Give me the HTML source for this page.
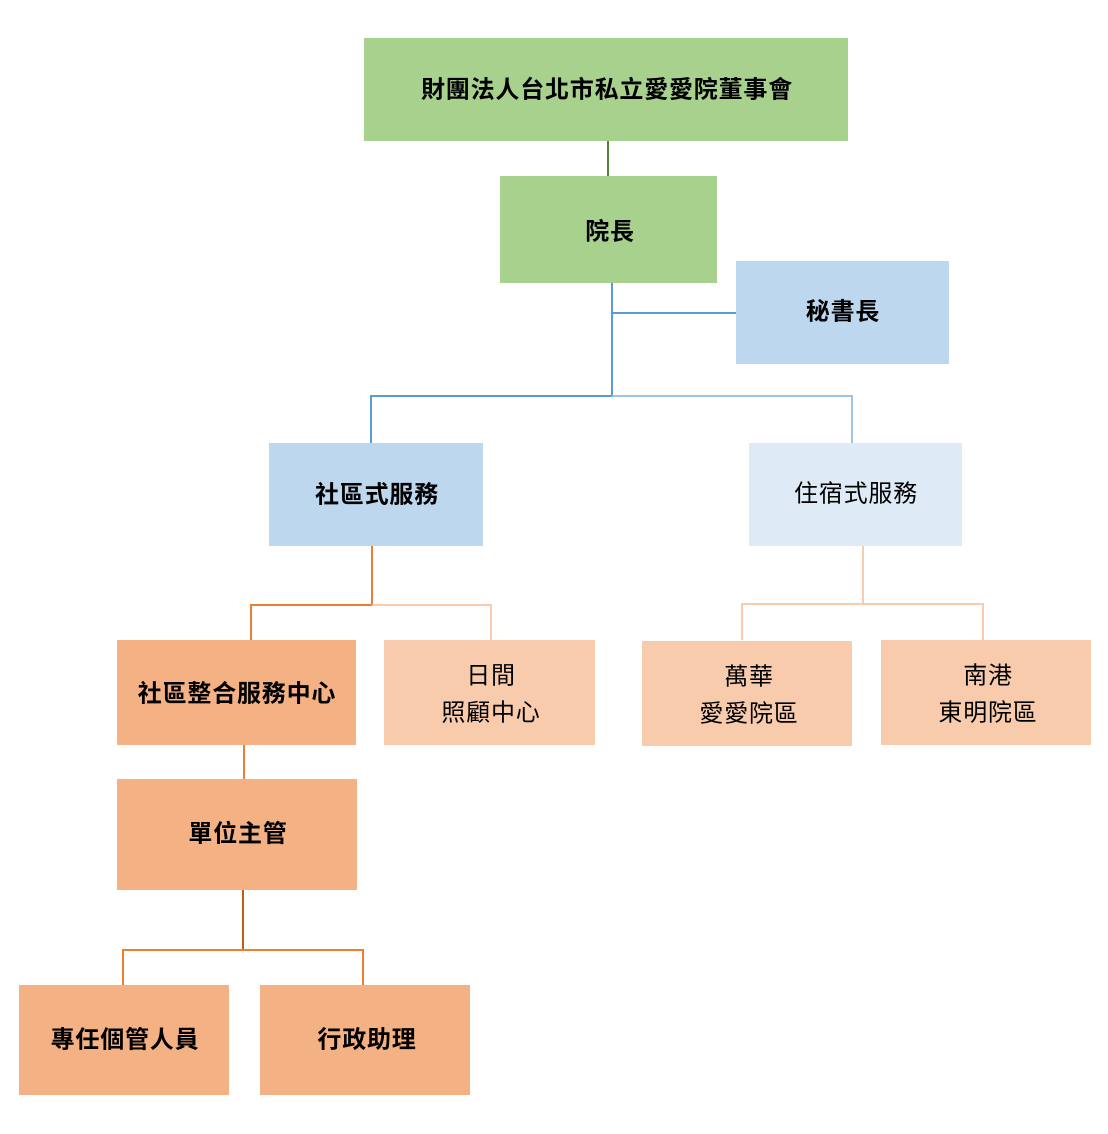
<!DOCTYPE html>
<html><head><meta charset="utf-8">
<style>
html,body{margin:0;padding:0;background:#fff;}
svg text{font-family:"Liberation Sans","Noto Sans CJK TC",sans-serif;font-size:24px;letter-spacing:0.8px;fill:#000;text-anchor:middle;dominant-baseline:central;}
.b{font-weight:bold;}
</style></head><body>
<svg width="1108" height="1129" viewBox="0 0 1108 1129" xmlns="http://www.w3.org/2000/svg">
<g fill="none" stroke-width="2">
<line x1="608" y1="141" x2="608" y2="176" stroke="#548235"/>
<line x1="612" y1="283" x2="612" y2="396" stroke="#5b9bd5"/>
<line x1="612" y1="313" x2="736" y2="313" stroke="#5b9bd5"/>
<polyline points="371,443 371,396 612,396" stroke="#5b9bd5"/>
<polyline points="612,396 852,396 852,443" stroke="#9dc3e6"/>
<line x1="372" y1="546" x2="372" y2="605" stroke="#ed7d31"/>
<polyline points="251,640 251,605 372,605" stroke="#ed7d31"/>
<polyline points="372,605 491,605 491,640" stroke="#f8cbad"/>
<line x1="863" y1="546" x2="863" y2="604" stroke="#f8cbad"/>
<polyline points="742,640 742,604 983,604 983,640" stroke="#f8cbad"/>
<line x1="244" y1="745" x2="244" y2="779" stroke="#ed7d31"/>
<line x1="243" y1="890" x2="243" y2="950" stroke="#c55a11"/>
<polyline points="123,985 123,950 363,950 363,985" stroke="#ed7d31"/>
</g>
<rect x="364" y="38" width="484" height="103" fill="#a9d18e"/>
<rect x="500" y="176" width="217" height="107" fill="#a9d18e"/>
<rect x="736" y="261" width="213" height="103" fill="#bdd7ee"/>
<rect x="269" y="443" width="214" height="103" fill="#bdd7ee"/>
<rect x="749" y="443" width="213" height="103" fill="#deebf7"/>
<rect x="117" y="640" width="239" height="105" fill="#f4b183"/>
<rect x="384" y="640" width="211" height="105" fill="#f8cbad"/>
<rect x="642" y="641" width="210" height="105" fill="#f8cbad"/>
<rect x="881" y="640" width="210" height="105" fill="#f8cbad"/>
<rect x="117" y="779" width="240" height="111" fill="#f4b183"/>
<rect x="19" y="985" width="210" height="110" fill="#f4b183"/>
<rect x="260" y="985" width="210" height="110" fill="#f4b183"/>
<text class="b" x="607" y="90">財團法人台北市私立愛愛院董事會</text>
<text class="b" x="610" y="232">院長</text>
<text class="b" x="843" y="312">秘書長</text>
<text class="b" x="377" y="495">社區式服務</text>
<text x="856" y="494">住宿式服務</text>
<text class="b" x="237" y="694">社區整合服務中心</text>
<text x="491" y="676">日間</text>
<text x="491" y="713">照顧中心</text>
<text x="749" y="677">萬華</text>
<text x="749" y="714">愛愛院區</text>
<text x="988" y="676">南港</text>
<text x="988" y="713">東明院區</text>
<text class="b" x="238" y="834">單位主管</text>
<text class="b" x="125" y="1040">專任個管人員</text>
<text class="b" x="367" y="1040">行政助理</text>
</svg>
</body></html>
